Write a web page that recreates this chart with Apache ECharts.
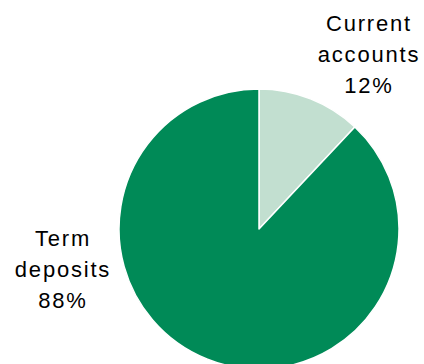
<!DOCTYPE html>
<html><head><meta charset="utf-8">
<script src="https://cdn.jsdelivr.net/npm/echarts@6/dist/echarts.min.js"></script>
<style>html,body{margin:0;padding:0;background:#fff}#c{width:424px;height:364px}#c text{letter-spacing:1.8px}</style>
</head><body><div id="c"></div>
<script>
const categories = ['Current\naccounts', 'Term\ndeposits'];
const values = [12, 88];
const colors = ['#c2dfd0', '#008a57'];
const labelPos = [[369, 54], [63, 269]];

const chart = echarts.init(document.getElementById('c'), null, {renderer: 'svg'});
chart.setOption({
  animation: false,
  series: [{
    type: 'pie',
    center: [259, 229],
    radius: [0, 140],
    startAngle: 90,
    clockwise: true,
    data: categories.map((c, i) => ({name: c, value: values[i], itemStyle: {color: colors[i]}})),
    itemStyle: {borderColor: '#ffffff', borderWidth: 1.5},
    label: {
      show: true,
      formatter: p => p.name + '\n' + p.value + '%',
      fontFamily: 'Liberation Sans, Arial, sans-serif',
      fontSize: 22,
      lineHeight: 31,
      color: '#000',
      align: 'center',
      overflow: 'none',
      width: 200
    },
    labelLine: {show: false},
    labelLayout: p => ({x: labelPos[p.dataIndex][0], y: labelPos[p.dataIndex][1], align: 'center', verticalAlign: 'middle'})
  }]
});
</script></body></html>
